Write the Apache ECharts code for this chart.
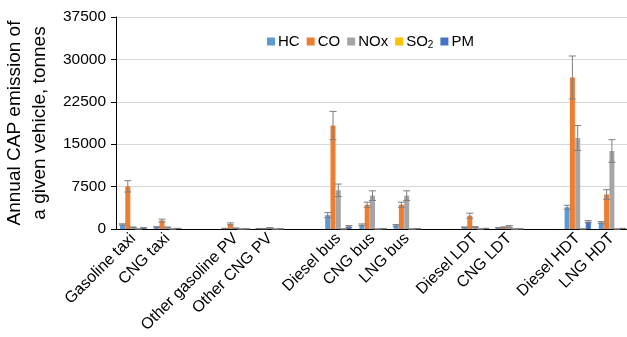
<!DOCTYPE html>
<html><head><meta charset="utf-8">
<script src="https://cdn.jsdelivr.net/npm/echarts@6/dist/echarts.min.js"></script>
<style>html,body{margin:0;padding:0;background:#fff}#c{width:627px;height:337px}</style>
</head><body><div id="c"></div>
<script>
var categories = ['Gasoline taxi','CNG taxi',' ','Other gasoline PV','Other CNG PV','  ','Diesel bus','CNG bus','LNG bus','   ','Diesel LDT','CNG LDT','    ','Diesel HDT','LNG HDT'];
var seriesNames = ['HC','CO','NOx','SO2','PM'];
var HC     = [800, 350, null, 100, 80, null, 2450, 750, 650, null, 300, 200, null, 3850, 1150];
var HCerr  = [120, 60, null, 30, 20, null, 450, 150, 150, null, 60, 40, null, 350, 150];
var CO     = [7550, 1500, null, 900, 60, null, 18300, 4300, 4300, null, 2350, 300, null, 26800, 6100];
var COerr  = [1000, 250, null, 180, 20, null, 2500, 450, 450, null, 450, 80, null, 3800, 850];
var NOx    = [300, 300, null, 150, 200, null, 6850, 5900, 5900, null, 350, 450, null, 16100, 13800];
var NOxerr = [60, 60, null, 30, 40, null, 1100, 850, 850, null, 70, 150, null, 2200, 2000];
var SO2    = [10, 5, null, 5, 3, null, 15, 3, 3, null, 8, 2, null, 25, 5];
var SO2err = [2, 1, null, 1, 1, null, 3, 1, 1, null, 2, 1, null, 5, 1];
var PM     = [200, 100, null, 30, 30, null, 450, 50, 50, null, 100, 30, null, 1300, 100];
var PMerr  = [40, 20, null, 10, 10, null, 150, 10, 10, null, 20, 10, null, 180, 20];
var yTicks = [0, 7500, 15000, 22500, 30000, 37500];

var colors = ['#5B9BD5','#ED7D31','#A5A5A5','#FFC000','#4472C4'];
var values = [HC, CO, NOx, SO2, PM];
var errs = [HCerr, COerr, NOxerr, SO2err, PMerr];
var BW = 5, STEP = 5.3;

var series = [];
values.forEach(function(v, i){
  series.push({name: seriesNames[i], type:'bar', data: v, barWidth: BW, barGap: '6%', barCategoryGap: '20%',
    itemStyle:{color: colors[i]}, z: 2});
});
values.forEach(function(v, i){
  var d = [];
  v.forEach(function(val, k){ if (val !== null) d.push([k, val, errs[i][k]]); });
  series.push({type:'custom', name: seriesNames[i] + '_err', data: d, z: 5, silent: true,
    encode:{x:0, y:1},
    renderItem: function(params, api){
      var k = api.value(0), val = api.value(1), e = api.value(2);
      var top = api.coord([k, val + e]);
      var bot = api.coord([k, Math.max(0, val - e)]);
      var x = top[0] + (i - 2) * STEP;
      var cw = 3.5;
      var st = {stroke:'#7f7f7f', lineWidth:1};
      return {type:'group', children:[
        {type:'line', shape:{x1:x, y1:top[1], x2:x, y2:bot[1]}, style:st},
        {type:'line', shape:{x1:x-cw, y1:top[1], x2:x+cw, y2:top[1]}, style:st},
        {type:'line', shape:{x1:x-cw, y1:bot[1], x2:x+cw, y2:bot[1]}, style:st}
      ]};
    }
  });
});

var chart = echarts.init(document.getElementById('c'), null, {renderer:'canvas'});
chart.setOption({
  animation: false,
  textStyle: {fontFamily: 'Liberation Sans, Arial, sans-serif'},
  legend: {
    data: seriesNames, top: 29, left: 262, itemWidth: 8, itemHeight: 8, itemGap: 7,
    icon: 'rect',
    textStyle: {fontSize: 15, color:'#000', padding:[0,0,0,-2],
      rich: {s:{fontSize: 10, verticalAlign:'bottom', padding:[8,0,0,0]}}},
    formatter: function(n){ return n === 'SO2' ? 'SO{s|2}' : n; }
  },
  grid: {left: 116, right: -2, top: 17, bottom: 108, containLabel: false, outerBoundsMode: 'none'},
  xAxis: {
    type: 'category', data: categories,
    axisLine: {lineStyle: {color: '#000', width: 1}},
    axisTick: {show: false},
    axisLabel: {interval: 0, rotate: 45, fontSize: 16, color: '#000', margin: 7}
  },
  yAxis: {
    type: 'value', min: yTicks[0], max: yTicks[yTicks.length-1], interval: 7500,
    name: 'Annual CAP emission of\na given vehicle, tonnes', nameLocation: 'middle', nameRotate: 90, nameGap: 57,
    nameTextStyle: {fontSize: 19, color: '#000', lineHeight: 25},
    axisLine: {show: true, lineStyle: {color: '#000'}},
    axisTick: {show: true, length: 5, lineStyle: {color:'#000'}},
    axisLabel: {fontSize: 15.5, color: '#000', margin: 10, formatter: function(v){ return String(v); }},
    splitLine: {lineStyle: {color: '#d9d9d9'}}
  },
  series: series
});
</script></body></html>
